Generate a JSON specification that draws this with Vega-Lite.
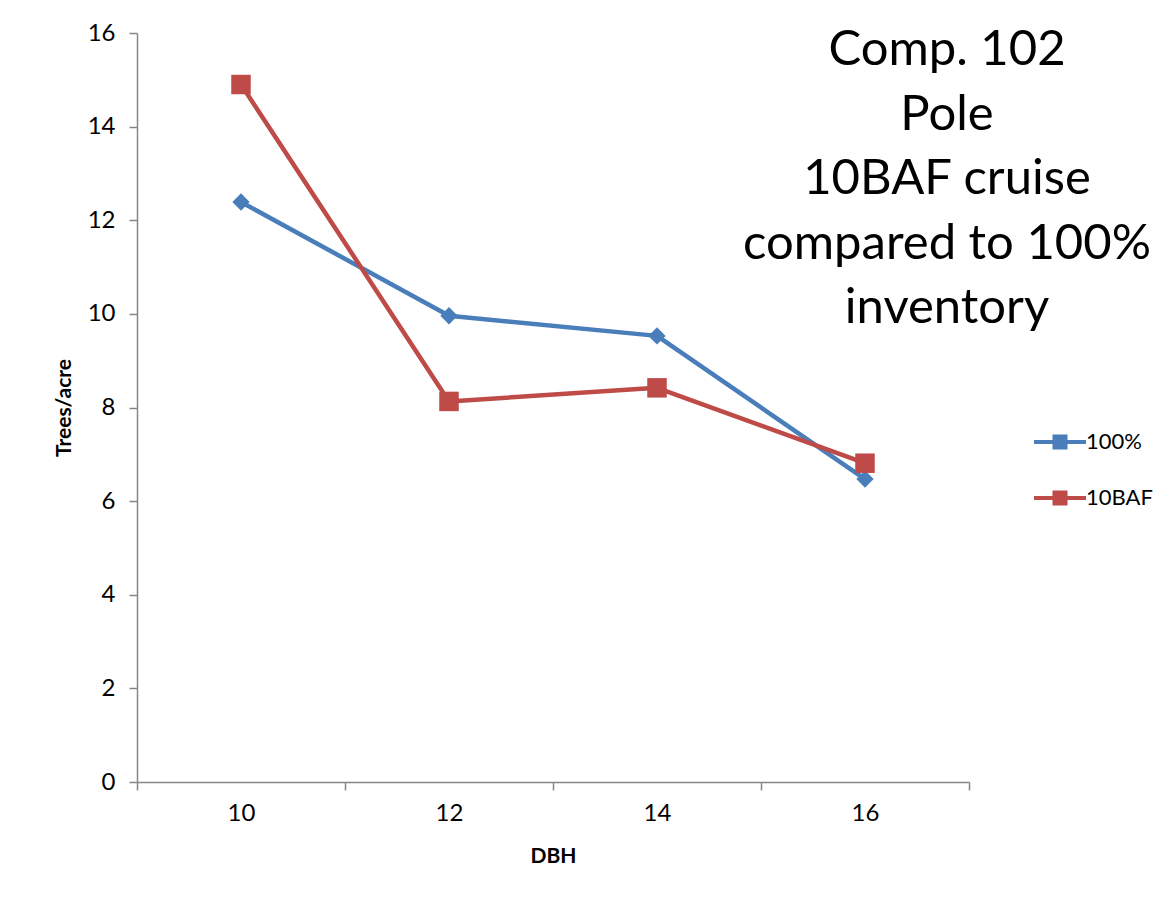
{
  "$schema": "https://vega.github.io/schema/vega-lite/v6.json",
  "width": 832,
  "height": 749,
  "autosize": "none",
  "padding": {"left": 137, "top": 33, "right": 205, "bottom": 140},
  "background": "white",
  "config": {
    "font": "Lato",
    "view": {"stroke": null},
    "axis": {"labelFont": "Lato", "titleFont": "Lato", "labelColor": "black", "titleColor": "black", "domainColor": "#868686", "tickColor": "#868686", "domainWidth": 1.5, "tickWidth": 1.5, "grid": false}
  },
  "title": {
    "text": ["Comp. 102", "Pole", "10BAF cruise", "compared to 100%", "inventory"],
    "orient": "top",
    "anchor": "end",
    "frame": "group",
    "align": "center",
    "baseline": "top",
    "font": "Lato",
    "fontSize": 49,
    "fontWeight": "normal",
    "color": "black",
    "lineHeight": 64.5,
    "offset": -312,
    "dx": -22
  },
  "data": {
    "values": [
      {"DBH": 10, "series": "100%", "value": 12.39},
      {"DBH": 12, "series": "100%", "value": 9.96},
      {"DBH": 14, "series": "100%", "value": 9.53},
      {"DBH": 16, "series": "100%", "value": 6.47},
      {"DBH": 10, "series": "10BAF", "value": 14.9},
      {"DBH": 12, "series": "10BAF", "value": 8.13},
      {"DBH": 14, "series": "10BAF", "value": 8.42},
      {"DBH": 16, "series": "10BAF", "value": 6.81}
    ]
  },
  "resolve": {"axis": {"x": "independent"}},
  "layer": [
    {
      "mark": {"type": "line", "strokeWidth": 4.5, "strokeCap": "round", "strokeJoin": "round"},
      "encoding": {
        "x": {
          "field": "DBH", "type": "quantitative",
          "scale": {"domain": [9, 17], "nice": false, "zero": false},
          "axis": {"orient": "bottom", "values": [9, 11, 13, 15, 17], "labels": false, "ticks": true, "tickSize": 8, "title": null, "domain": true}
        },
        "y": {
          "field": "value", "type": "quantitative",
          "scale": {"domain": [0, 16], "nice": false},
          "axis": {"values": [0, 2, 4, 6, 8, 10, 12, 14, 16], "title": "Trees/acre", "titleFontSize": 21, "titleFontWeight": "bold", "titlePadding": 13, "labelFontSize": 24, "tickSize": 8, "labelPadding": 14}
        },
        "color": {
          "field": "series", "type": "nominal",
          "scale": {"domain": ["100%", "10BAF"], "range": ["#4A7EBB", "#BE4B48"]},
          "legend": {
            "title": null,
            "orient": "none",
            "legendX": 912,
            "legendY": 398,
            "labelFontSize": 22,
            "labelFont": "Lato",
            "labelColor": "black",
            "labelOffset": 15,
            "symbolSize": 100,
            "symbolType": "M-5.2,0H5.2 M-1.1,-1.1H1.1V1.1H-1.1Z M-0.4,-0.4H0.4V0.4H-0.4Z",
            "symbolStrokeWidth": 4,
            "rowPadding": 28,
            "padding": 0
          }
        },
        "order": {"field": "DBH"}
      }
    },
    {
      "transform": [{"filter": "datum.series === '100%'"}],
      "mark": {"type": "point", "filled": true, "opacity": 1, "shape": "diamond", "size": 300},
      "encoding": {
        "x": {
          "field": "DBH", "type": "quantitative",
          "axis": {"orient": "bottom", "values": [10, 12, 14, 16], "ticks": false, "domain": false, "labelFontSize": 24, "labelPadding": 19, "title": "DBH", "titleFontSize": 21, "titleFontWeight": "bold", "titlePadding": 20}
        },
        "y": {"field": "value", "type": "quantitative"},
        "color": {"field": "series", "type": "nominal"}
      }
    },
    {
      "transform": [{"filter": "datum.series === '10BAF'"}],
      "mark": {"type": "point", "filled": true, "opacity": 1, "shape": "square", "size": 380},
      "encoding": {
        "x": {"field": "DBH", "type": "quantitative", "axis": null},
        "y": {"field": "value", "type": "quantitative"},
        "color": {"field": "series", "type": "nominal"}
      }
    }
  ]
}
